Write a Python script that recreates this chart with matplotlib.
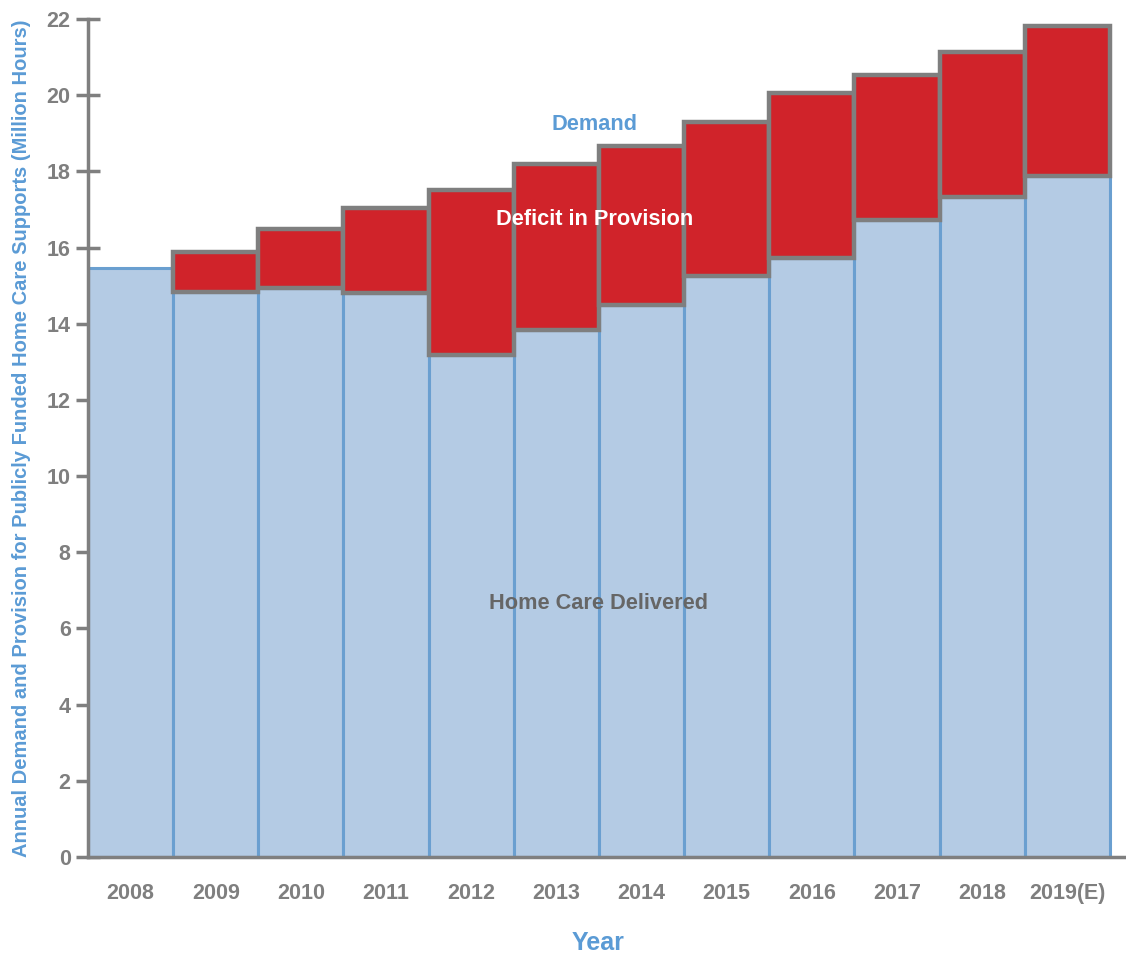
import matplotlib
matplotlib.use("Agg")
import matplotlib.pyplot as plt
import numpy as np

years = ["2008", "2009", "2010", "2011", "2012", "2013", "2014", "2015", "2016", "2017", "2018", "2019(E)"]
delivered = [15.45, 14.83, 14.94, 14.81, 13.18, 13.84, 14.49, 15.25, 15.73, 16.72, 17.33, 17.88]
demand = [15.45, 15.88, 16.49, 17.04, 17.51, 18.19, 18.67, 19.30, 20.06, 20.53, 21.13, 21.82]

plt.rcParams['font.family'] = ['Liberation Sans', 'DejaVu Sans']

BLUE_FILL = "#B4CBE4"
BLUE_EDGE = "#6A9FD0"
RED_FILL = "#D0232A"
GRAY = "#7F7F7F"
LABEL_BLUE = "#5B9BD5"

fig = plt.figure(figsize=(11.26, 9.6), dpi=100)
ax = fig.add_axes([88/1126, 1 - 857/960, (1126 - 88)/1126, (857 - 19)/960])

x = np.arange(len(years))
deficit = [d - h for d, h in zip(demand, delivered)]
ax.bar(x, delivered, width=1.0, color=BLUE_FILL, edgecolor=BLUE_EDGE, linewidth=2.2, zorder=2)
mask = [v > 0.01 for v in deficit]
xr = [xi for xi, m in zip(x, mask) if m]
ar = [h for h, m in zip(delivered, mask) if m]
dr = [v for v, m in zip(deficit, mask) if m]
ax.bar(xr, dr, bottom=ar, width=1.0, color=RED_FILL, edgecolor=GRAY, linewidth=3.2, zorder=3)

ax.set_xlim(-0.5, 11.69)
ax.set_ylim(0, 22)
ax.set_yticks(range(0, 23, 2))
ax.set_xticks(x)
ax.set_xticklabels(years)

for s in ["top", "right"]:
    ax.spines[s].set_visible(False)
for s in ["left", "bottom"]:
    ax.spines[s].set_color(GRAY)
    ax.spines[s].set_linewidth(2.5)
    ax.spines[s].set_zorder(5)

ax.tick_params(axis="y", direction="inout", length=17, width=2.5, color=GRAY,
               labelcolor=GRAY, labelsize=15.5, pad=4)
ax.tick_params(axis="x", length=0, labelcolor=GRAY, labelsize=15.5, pad=19)
for lab in ax.get_xticklabels() + ax.get_yticklabels():
    lab.set_fontweight("bold")

fig.text(598/1126, 1 - 943/960, "Year", color=LABEL_BLUE, fontsize=18,
         fontweight="bold", ha="center", va="center")
fig.text(22/1126, 1 - 438/960,
         "Annual Demand and Provision for Publicly Funded Home Care Supports (Million Hours)",
         rotation=90, ha="center", va="center", color=LABEL_BLUE, fontsize=14.5, fontweight="bold")

ax.text(5.45, 19.22, "Demand", color=LABEL_BLUE, fontsize=15.7, fontweight="bold", ha="center", va="center", zorder=6)
ax.text(5.45, 16.73, "Deficit in Provision", color="white", fontsize=15.7, fontweight="bold", ha="center", va="center", zorder=6)
ax.text(5.5, 6.65, "Home Care Delivered", color="#666666", fontsize=15.7, fontweight="bold", ha="center", va="center", zorder=6)

fig.savefig("out.png", dpi=100)
